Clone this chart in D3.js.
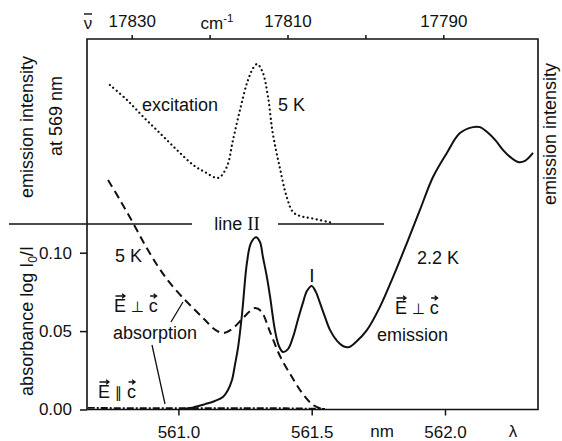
<!DOCTYPE html>
<html><head><meta charset="utf-8">
<script src="https://cdn.jsdelivr.net/npm/d3@7"></script>
<style>
html,body{margin:0;padding:0;background:#fff;}
svg{display:block;}
text{font-family:"Liberation Sans",Arial,sans-serif;fill:#111;}
</style></head>
<body>
<svg id="chart" width="562" height="441"></svg>
<script>
// ---------- data ----------
// emission E⊥c at 2.2 K (arbitrary units) vs wavelength (nm)
const emissionLambda = [561.017,561.044,561.100,561.137,561.167,561.186,561.201,561.212,561.224,561.239,561.257,561.272,561.291,561.306,561.317,561.332,561.344,561.362,561.377,561.392,561.411,561.430,561.448,561.467,561.482,561.500,561.516,561.531,561.550,561.569,561.595,561.617,561.640,561.666,561.707,561.756,561.805,561.857,561.906,561.955,562.007,562.056,562.105,562.131,562.158,562.188,562.218,562.244,562.274,562.300,562.330];
const emissionValue  = [0.002,0.005,0.019,0.030,0.044,0.069,0.104,0.157,0.220,0.340,0.517,0.587,0.608,0.591,0.538,0.467,0.397,0.280,0.224,0.203,0.213,0.256,0.316,0.376,0.418,0.436,0.414,0.376,0.326,0.280,0.242,0.224,0.220,0.238,0.280,0.362,0.467,0.587,0.704,0.820,0.905,0.975,0.996,0.996,0.979,0.951,0.915,0.891,0.873,0.877,0.905];
// absorption E⊥c at 5 K (absorbance log I0/I)
const absPerpLambda = [560.736,560.781,560.830,560.875,560.920,560.968,561.025,561.066,561.107,561.137,561.167,561.201,561.239,561.269,561.287,561.310,561.344,561.381,561.426,561.467,561.505,561.539];
const absPerpValue  = [0.1464,0.1336,0.1189,0.1049,0.0922,0.0807,0.0698,0.0628,0.0558,0.0510,0.0488,0.0513,0.0577,0.0628,0.0647,0.0628,0.0494,0.0341,0.0207,0.0099,0.0029,0.0003];
// absorption E∥c
const absParLambda = [560.66,560.80,560.95,561.10,561.25,561.40,561.55];
const absParValue  = [0.0010,0.0009,0.0008,0.0008,0.0009,0.0008,0.0004];
// excitation spectrum (emission intensity at 569 nm) vs wavenumber (cm-1)
const excWavenumber = [17832.8,17830.6,17828.5,17826.4,17824.2,17822.1,17820.6,17818.9,17817.8,17817.0,17816.1,17815.2,17814.4,17813.9,17813.2,17812.5,17811.9,17811.0,17810.1,17809.3,17808.4,17807.1,17804.1];
const excValue      = [0.869,0.775,0.669,0.569,0.463,0.369,0.325,0.288,0.356,0.525,0.713,0.881,0.975,1.0,0.95,0.794,0.569,0.356,0.169,0.075,0.05,0.0375,0.006];
// axes
const nmTicks = [561.0, 561.5, 562.0];
const wnTicks = [17830, 17820, 17810, 17800, 17790];
const wnLabelled = [17830, 17810, 17790];
const absTicks = [0.00, 0.05, 0.10];

// ---------- scales ----------
const svg = d3.select("#chart");
const L = 87, R = 538, T = 39, B = 409.5, Ymid = 224;
const x = d3.scaleLinear().domain([561.0, 562.0]).range([178.4, 445.0]);
const xTop = d3.scaleLinear().domain([17830, 17790]).range([131.7, 443.3]);
const yAbs = d3.scaleLinear().domain([0, 0.10]).range([B, 252.7]);
const yEm = d3.scaleLinear().domain([0, 1]).range([B, 126]);
const yExc = d3.scaleLinear().domain([0, 1]).range([Ymid, 64]);

// ---------- frame ----------
const frame = svg.append("g").attr("stroke", "#111").attr("stroke-width", 1.6).attr("fill", "none");
frame.append("path").attr("d", `M${L},${B}V${T}H${R}V${B}H${L}`);
// "line II" separator
frame.append("path").attr("d", `M9,${Ymid}H192M278,${Ymid}H384`).attr("stroke-width", 1.5);

// ---------- axes ----------
const axB = svg.append("g").attr("transform", `translate(0,${B})`)
  .call(d3.axisBottom(x).tickValues(nmTicks).tickFormat(d3.format(".1f")).tickSize(6).tickPadding(10));
const axT = svg.append("g").attr("transform", `translate(0,${T})`)
  .call(d3.axisTop(xTop).tickValues(wnTicks).tickFormat(d => wnLabelled.includes(d) ? d : "").tickSize(4).tickPadding(8));
const axL = svg.append("g").attr("transform", `translate(${L},0)`)
  .call(d3.axisLeft(yAbs).tickValues(absTicks).tickFormat(d3.format(".2f")).tickSize(7).tickPadding(8));
[axB, axT, axL].forEach(g => {
  g.select(".domain").remove();
  g.selectAll(".tick line").attr("stroke", "#111").attr("stroke-width", 1.5);
  g.selectAll(".tick text").attr("font-size", 17).attr("fill", "#111")
    .attr("font-family", "Liberation Sans, Arial, sans-serif");
});

// ---------- curves ----------
const lineEm = d3.line().x((d, i) => x(emissionLambda[i])).y(d => yEm(d)).curve(d3.curveCatmullRom.alpha(0.5));
const lineAbsPerp = d3.line().x((d, i) => x(absPerpLambda[i])).y(d => yAbs(d)).curve(d3.curveCatmullRom.alpha(0.5));
const lineAbsPar = d3.line().x((d, i) => x(absParLambda[i])).y(d => yAbs(d)).curve(d3.curveLinear);
const lineExc = d3.line().x((d, i) => xTop(excWavenumber[i])).y(d => yExc(d)).curve(d3.curveCatmullRom.alpha(0.5));

svg.append("path").datum(absParValue).attr("d", lineAbsPar)
  .attr("fill", "none").attr("stroke", "#111").attr("stroke-width", 1.8)
  .attr("stroke-dasharray", "7,2,2,2");
svg.append("path").datum(absPerpValue).attr("d", lineAbsPerp)
  .attr("fill", "none").attr("stroke", "#111").attr("stroke-width", 2)
  .attr("stroke-dasharray", "8,5");
svg.append("path").datum(emissionValue).attr("d", lineEm)
  .attr("fill", "none").attr("stroke", "#111").attr("stroke-width", 2);
svg.append("path").datum(excValue).attr("d", lineExc)
  .attr("fill", "none").attr("stroke", "#111").attr("stroke-width", 2.2)
  .attr("stroke-linecap", "round").attr("stroke-dasharray", "0.1,4.4");

// ---------- annotations ----------
function label(txt, x0, y0, opts = {}) {
  const t = svg.append("text").attr("x", x0).attr("y", y0)
    .attr("font-size", opts.size || 18)
    .attr("text-anchor", opts.anchor || "start").attr("fill", "#111");
  if (opts.rotate) t.attr("transform", `rotate(-90,${x0},${y0})`);
  if (opts.family) t.attr("font-family", opts.family);
  t.text(txt);
  return t;
}
// vector label with arrows above E and c
function vecLabel(rel, x0, y0) {
  const g = svg.append("g");
  const t = g.append("text").attr("x", x0).attr("y", y0).attr("font-size", 18).attr("fill", "#111");
  t.append("tspan").text("E");
  t.append("tspan").attr("font-family", "DejaVu Sans").attr("font-size", 15).attr("fill", "#111").text(" " + rel + " ");
  t.append("tspan").text("c");
  const nodes = t.selectAll("tspan").nodes();
  [nodes[0], nodes[2]].forEach(n => {
    const bb = n.getBBox();
    const ay = y0 - 16;
    const x1 = bb.x + 1.5, x2 = bb.x + bb.width - 1;
    g.append("path").attr("d", `M${x1},${ay}H${x2}M${x2 - 3},${ay - 2.2}L${x2},${ay}L${x2 - 3},${ay + 2.2}`)
      .attr("stroke", "#111").attr("stroke-width", 1.3).attr("fill", "none");
  });
}

// top axis extras
label("\u03BD", 88, 29, {anchor: "middle", size: 17, family: "DejaVu Sans"});
svg.append("path").attr("d", "M84,14H92").attr("stroke", "#111").attr("stroke-width", 1.4);
const cm = svg.append("text").attr("x", 217).attr("y", 29).attr("font-size", 17).attr("text-anchor", "middle").attr("fill", "#111");
cm.append("tspan").text("cm");
cm.append("tspan").attr("dy", -7).attr("font-size", 11.5).text("-1");
// bottom axis extras
label("nm", 382, 437, {anchor: "middle", size: 17});
label("\u03BB", 513, 437, {anchor: "middle", size: 17, family: "DejaVu Sans"});

// y labels
label("emission intensity", 33, 127, {anchor: "middle", rotate: true, size: 18});
label("at 569 nm", 62, 116, {anchor: "middle", rotate: true, size: 18});
const ab = svg.append("text").attr("x", 33).attr("y", 321).attr("font-size", 18).attr("fill", "#111")
  .attr("text-anchor", "middle").attr("transform", "rotate(-90,33,321)");
ab.append("tspan").text("absorbance log I");
ab.append("tspan").attr("font-size", 12).attr("dy", 4).text("0");
ab.append("tspan").attr("dy", -4).text("/I");
label("emission intensity", 556, 134, {anchor: "middle", rotate: true, size: 18});

// upper panel
label("excitation", 142, 111);
label("5 K", 278, 111);
const l2 = svg.append("text").attr("x", 237).attr("y", 230).attr("font-size", 18).attr("text-anchor", "middle").attr("fill", "#111");
l2.append("tspan").text("line ");
l2.append("tspan").attr("font-family", "Liberation Serif").attr("font-size", 19).text("II");

// lower panel
label("5 K", 115, 262);
vecLabel("\u22A5", 114, 312);
label("absorption", 113, 339);
vecLabel("\u2225", 98, 398);
label("I", 312, 282, {anchor: "middle", size: 19, family: "Liberation Serif"});
label("2.2 K", 417, 264);
vecLabel("\u22A5", 395, 314);
label("emission", 377, 341);

// leader lines
svg.append("path").attr("d", "M171,322L183,302M152,345L165,404")
  .attr("stroke", "#111").attr("stroke-width", 1.3).attr("fill", "none");
</script>
</body></html>
